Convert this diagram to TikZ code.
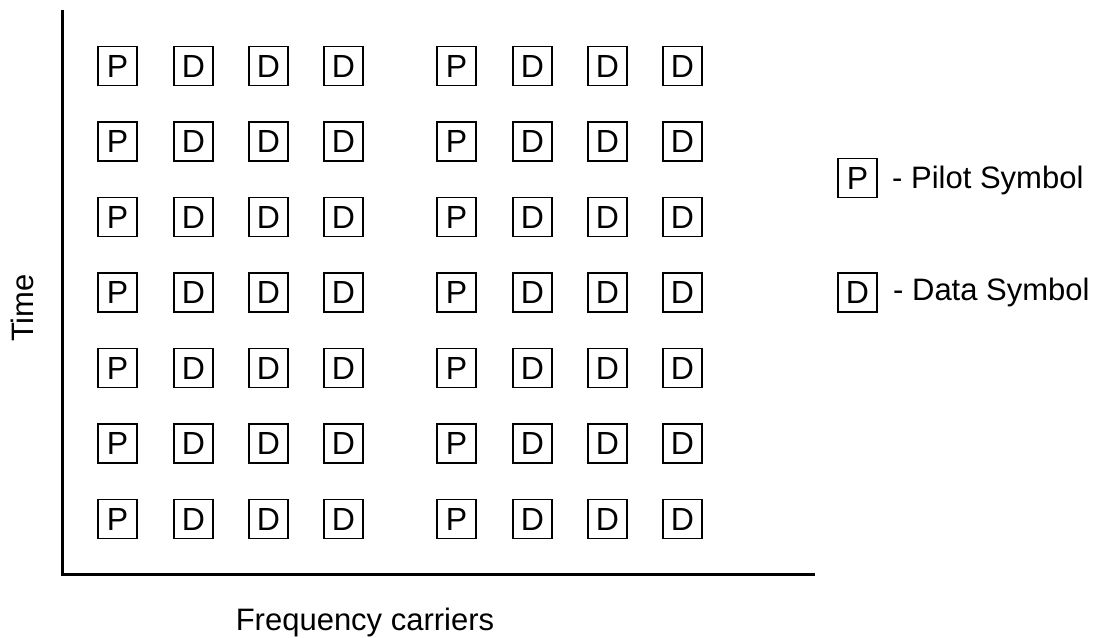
\documentclass[tikz,border=0pt]{standalone}
\usepackage{fontspec}
\setmainfont{Liberation Sans}
\begin{document}
\begin{tikzpicture}[x=1pt,y=-1pt,
  symbox/.style={draw, line width=1.6pt, minimum width=39pt, minimum height=39pt, inner sep=0pt,
    font=\fontsize{32}{34}\selectfont},
  lbl/.style={inner sep=0pt, font=\fontsize{31}{33}\selectfont},
  axis/.style={line width=2.2pt}]
\useasboundingbox (0,0) rectangle (1100,637);
% axes
\coordinate (top) at (62.5,9.5);
\coordinate (origin) at (62.5,574.5);
\coordinate (right) at (815,574.5);
\draw[axis] (top) -- (origin) -- (right);
% grid
\foreach \r [count=\ri] in {66,141.5,217,292.5,368,443.5,519}{
  \foreach \c/\t [count=\ci] in {117.5/P,193.5/D,268.5/D,343.5/D,456.5/P,532.5/D,607.5/D,682.5/D}{
    \node[symbox] (b\ri-\ci) at (\c,\r) {\t};
  }
}
% legend
\node[symbox] (legP) at (857.5,178) {P};
\node[lbl, anchor=base west] (legPt) at (892,188.5) {- Pilot Symbol};
\node[symbox] (legD) at (857.5,292.5) {D};
\node[lbl, anchor=base west] (legDt) at (893,300) {- Data Symbol};
% axis labels
\node[lbl, rotate=90] (time) at (22,308) {Time};
\node[lbl, anchor=base] (freq) at (365,630) {Frequency carriers};
\end{tikzpicture}
\end{document}
